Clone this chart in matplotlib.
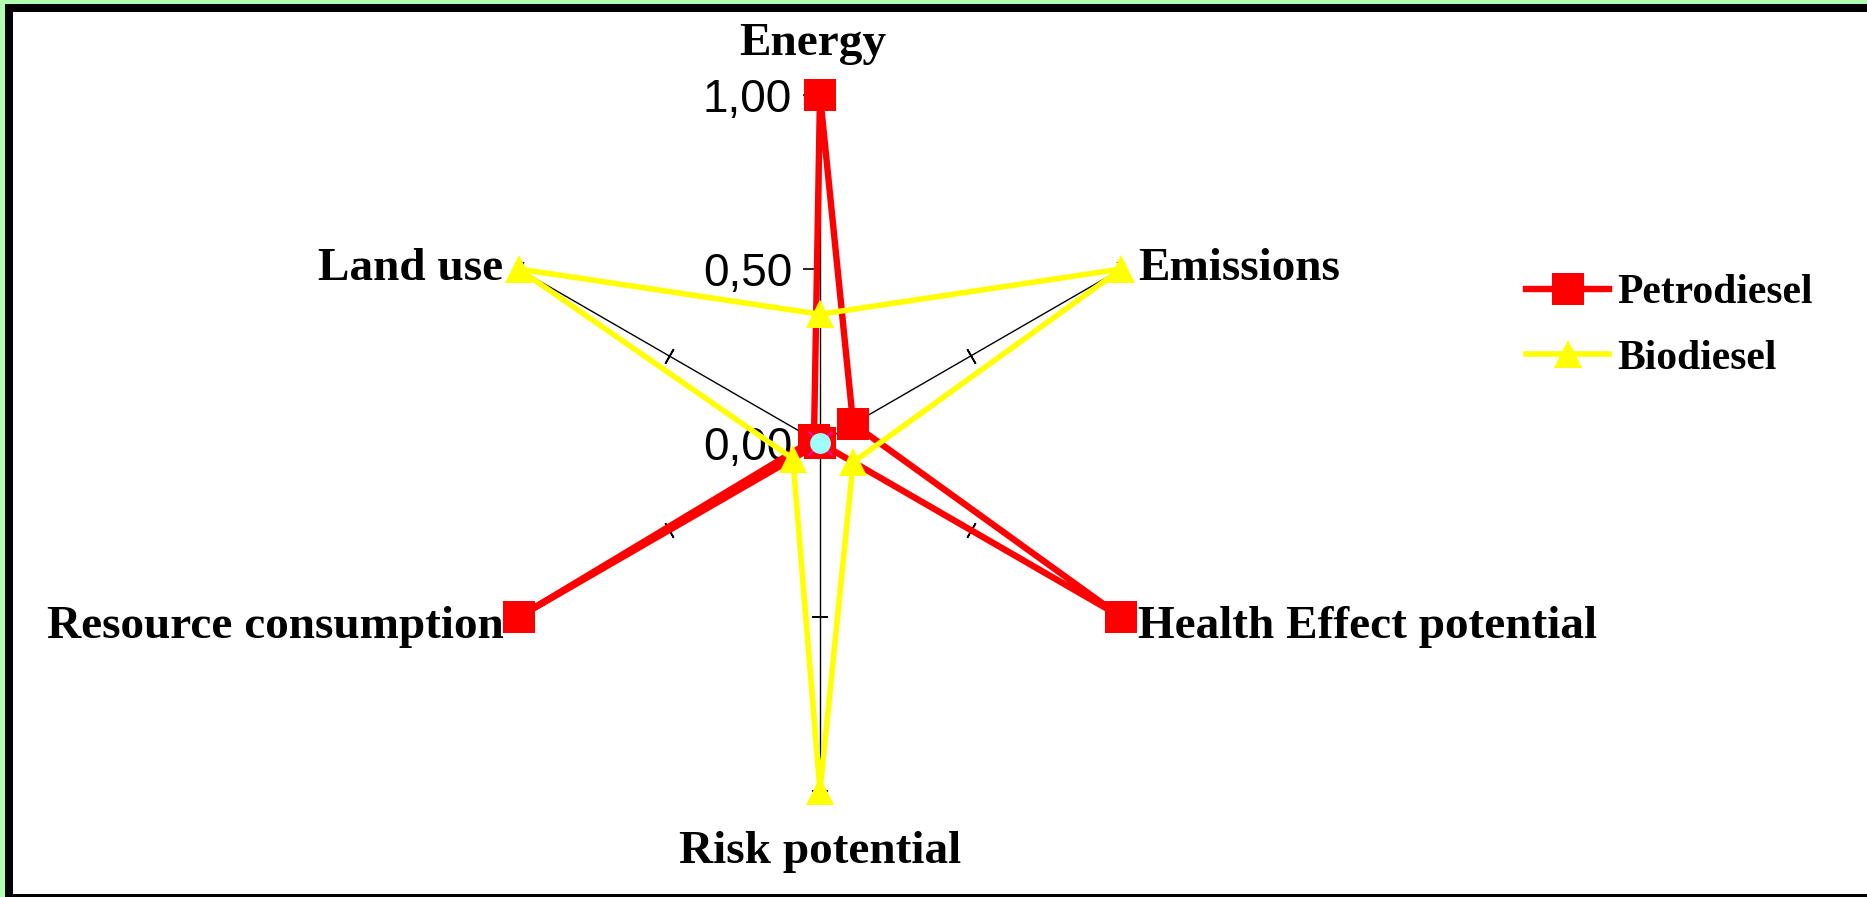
import numpy as np
from matplotlib import pyplot as plt
from matplotlib.patches import Rectangle
from matplotlib.markers import TICKLEFT

categories = ['Energy', 'Emissions', 'Health Effect potential', 'Risk potential',
              'Resource consumption', 'Land use']
petrodiesel = [1.00, 0.11, 1.00, 0.00, 1.00, 0.02]
biodiesel = [0.37, 1.00, 0.11, 1.00, 0.09, 1.00]
tick_values = [0.0, 0.5, 1.0]
tick_labels = ['0,00', '0,50', '1,00']

W, H = 1867, 897
fig = plt.figure(figsize=(W / 100, H / 100), dpi=100)
fig.patch.set_facecolor('#b0ffb0')

# black frame, then white panel inside it
fig.add_artist(Rectangle((5 / W, 0), 1 - 5 / W, 893 / H, transform=fig.transFigure,
                         facecolor='black', edgecolor='none', zorder=-2))
fig.add_artist(Rectangle((13 / W, 3 / H), 1 - 13 / W, 882 / H, transform=fig.transFigure,
                         facecolor='white', edgecolor='none', zorder=-1))

ax = fig.add_axes([472 / W, 106 / H, 696 / W, 696 / H], projection='polar')
ax.set_theta_zero_location('N')
ax.set_theta_direction(-1)
ax.set_ylim(0, 1)
ax.axis('off')

angles = np.arange(len(categories)) * 2 * np.pi / len(categories)
serif = dict(family='Liberation Serif', weight='bold', size=34)

# spokes with cross ticks
for i, t in enumerate(angles):
    ax.plot([t, t], [0, 1], color='black', lw=1.0, zorder=1, clip_on=False)
    if i == 0:
        ax.plot([t] * 3, tick_values, ls='none', marker=TICKLEFT, markersize=12,
                markeredgewidth=1.2, color='black', zorder=1, clip_on=False)
    else:
        ang = 90 - np.degrees(t)
        ax.plot([t] * 3, tick_values, ls='none', marker=(2, 2, ang), markersize=12,
                markeredgewidth=1.2, color='black', zorder=1, clip_on=False)

for v, lab in zip(tick_values, tick_labels):
    ax.annotate(lab, xy=(0, v), xytext=(-20, 0), textcoords='offset points',
                ha='right', va='center_baseline', family='Liberation Sans', size=33)

theta = np.append(angles, angles[0])
ax.plot(theta, petrodiesel + petrodiesel[:1], color='#ff0000', lw=4.6, marker='s',
        markersize=23, markeredgewidth=0, label='Petrodiesel', zorder=3, clip_on=False)
ax.plot(theta, biodiesel + biodiesel[:1], color='#ffff00', lw=4.0, marker='^',
        markersize=20, markeredgewidth=0, label='Biodiesel', zorder=4, clip_on=False)

# center marker
ax.plot([0], [0], marker='x', color='#ff00ff', markersize=17, mew=1, zorder=5, clip_on=False)
ax.plot([0], [0], marker='o', color='#9fffff', markersize=15, mew=0, zorder=6, clip_on=False)

# category labels
offsets = [((-5, 29), 'center'), ((12, -8), 'left'), ((12, -15), 'left'),
           ((0, -52), 'center'), ((-11, -15), 'right'), ((-11, -8), 'right')]
for t, name, (off, ha) in zip(angles, categories, offsets):
    ax.annotate(name, xy=(t, 1.0), xytext=off, textcoords='offset points',
                ha=ha, va='baseline', **serif)

handles, labels = ax.get_legend_handles_labels()
fig.legend(handles, labels, loc='center left', bbox_to_anchor=(1526 / W, 1 - 326 / H),
           frameon=False, borderpad=0, borderaxespad=0, handlelength=2.0,
           handletextpad=0.2, labelspacing=0.65,
           prop=dict(family='Liberation Serif', weight='bold', size=30))

fig.savefig('out.png', dpi=100, facecolor=fig.get_facecolor())
